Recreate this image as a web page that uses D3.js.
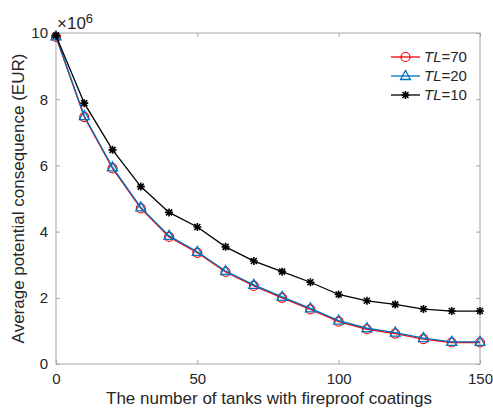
<!DOCTYPE html>
<html>
<head>
<meta charset="utf-8">
<script src="https://cdn.jsdelivr.net/npm/d3@7"></script>
<style>
  body { margin: 0; background: #fff; }
  svg text { font-family: "Liberation Sans", Arial, sans-serif; fill: #262626; }
</style>
</head>
<body>
<svg width="493" height="412"></svg>
<script>
// data (values in units of 1e6 EUR)
var tanks = [0, 10, 20, 30, 40, 50, 60, 70, 80, 90, 100, 110, 120, 130, 140, 150];
var tl70 = [9.88, 7.46, 5.91, 4.70, 3.84, 3.36, 2.78, 2.36, 2.00, 1.65, 1.28, 1.05, 0.92, 0.75, 0.65, 0.65];
var tl20 = [9.90, 7.49, 5.94, 4.73, 3.87, 3.39, 2.81, 2.39, 2.03, 1.68, 1.31, 1.08, 0.95, 0.78, 0.67, 0.67];
var tl10 = [9.92, 7.88, 6.47, 5.36, 4.58, 4.14, 3.54, 3.11, 2.79, 2.47, 2.10, 1.91, 1.80, 1.66, 1.60, 1.60];
var xTicks = [0, 50, 100, 150];
var yTicks = [0, 2, 4, 6, 8, 10];

var series = [
  {name: "70", values: tl70, color: "#ff0000", marker: "circle"},
  {name: "20", values: tl20, color: "#0072bd", marker: "triangle"},
  {name: "10", values: tl10, color: "#000000", marker: "star"}
];

var svg = d3.select("svg");
var mLeft = 56, mRight = 480, mTop = 33, mBottom = 364;

var x = d3.scaleLinear().domain([0, 150]).range([mLeft, mRight]);
var y = d3.scaleLinear().domain([0, 10]).range([mBottom, mTop]);

var axisColor = "#a6a6a6";

// box
svg.append("rect")
  .attr("x", mLeft).attr("y", mTop)
  .attr("width", mRight - mLeft).attr("height", mBottom - mTop)
  .attr("fill", "none").attr("stroke", axisColor).attr("stroke-width", 1);

// axes with inward ticks
var xAxis = svg.append("g").attr("transform", "translate(0," + mBottom + ")")
  .call(d3.axisBottom(x).tickValues(xTicks).tickSizeInner(-4).tickSizeOuter(0).tickPadding(9));
var xTop = svg.append("g").attr("transform", "translate(0," + mTop + ")")
  .call(d3.axisTop(x).tickValues(xTicks).tickSizeInner(-4).tickSizeOuter(0).tickFormat(""));
var yAxis = svg.append("g").attr("transform", "translate(" + mLeft + ",0)")
  .call(d3.axisLeft(y).tickValues(yTicks).tickSizeInner(-4).tickSizeOuter(0).tickPadding(8));
var yRight = svg.append("g").attr("transform", "translate(" + mRight + ",0)")
  .call(d3.axisRight(y).tickValues(yTicks).tickSizeInner(-4).tickSizeOuter(0).tickFormat(""));

[xAxis, xTop, yAxis, yRight].forEach(function (g) {
  g.select(".domain").remove();
  g.selectAll("line").attr("stroke", axisColor);
  g.selectAll("text").style("font-size", "15px").attr("fill", "#262626")
    .style("font-family", "'Liberation Sans', Arial, sans-serif");
});

// exponent label
var expo = svg.append("text").attr("x", mLeft + 1).attr("y", 29).style("font-size", "17px");
expo.append("tspan").text("\u00d710");
expo.append("tspan").attr("dy", -6).style("font-size", "13px").text("6");

// axis titles
svg.append("text")
  .attr("x", (mLeft + mRight) / 2 + 1).attr("y", 404)
  .attr("text-anchor", "middle").style("font-size", "17px")
  .text("The number of tanks with fireproof coatings");
svg.append("text")
  .attr("transform", "translate(24," + ((mTop + mBottom) / 2) + ") rotate(-90)")
  .attr("text-anchor", "middle").style("font-size", "17px")
  .text("Average potential consequence (EUR)");

function drawMarker(g, type, color) {
  if (type === "circle") {
    g.append("circle").attr("r", 4.5).attr("fill", "none").attr("stroke", color).attr("stroke-width", 1.2);
  } else if (type === "triangle") {
    g.append("path").attr("d", "M0,-5.5L5,3.5L-5,3.5Z").attr("fill", "none").attr("stroke", color).attr("stroke-width", 1.3);
  } else {
    var s = 4;
    g.append("path")
      .attr("d", "M-" + s + ",0L" + s + ",0M0,-" + s + "L0," + s +
        "M-3,-3L3,3M-3,3L3,-3")
      .attr("stroke", color).attr("stroke-width", 1.6);
  }
}

var line = d3.line()
  .x(function (d, i) { return x(tanks[i]); })
  .y(function (d) { return y(d); });

series.forEach(function (s) {
  svg.append("path").datum(s.values)
    .attr("d", line).attr("fill", "none")
    .attr("stroke", s.color).attr("stroke-width", 1.3);
  s.values.forEach(function (v, i) {
    var g = svg.append("g").attr("transform", "translate(" + x(tanks[i]) + "," + y(v) + ")");
    drawMarker(g, s.marker, s.color);
  });
});

// legend
var legend = svg.append("g");
series.forEach(function (s, i) {
  var ly = 57 + i * 19;
  legend.append("line").attr("x1", 391).attr("x2", 420).attr("y1", ly).attr("y2", ly)
    .attr("stroke", s.color).attr("stroke-width", 1.3);
  drawMarker(legend.append("g").attr("transform", "translate(405.5," + ly + ")"), s.marker, s.color);
  var t = legend.append("text").attr("x", 424).attr("y", ly + 5).style("font-size", "15px");
  t.append("tspan").style("font-style", "italic").text("TL");
  t.append("tspan").text("=" + s.name);
});
</script>
</body>
</html>
